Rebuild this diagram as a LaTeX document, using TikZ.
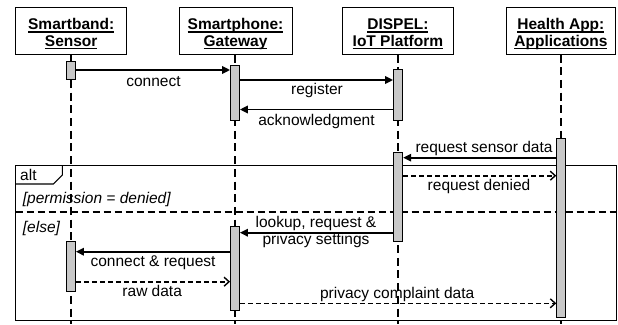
\documentclass[tikz,border=0pt]{standalone}
\usepackage{fontspec}
\setmainfont{Liberation Sans}
\usetikzlibrary{arrows.meta}
\newcommand\hdul[1]{\setbox0\hbox{#1}\rlap{\rule[-3.4pt]{\wd0}{1.3pt}}\box0}
\definecolor{barfill}{RGB}{200,200,200}
\tikzset{
  headbox/.style={draw=black, line width=1pt, fill=white, minimum height=46.7pt, inner sep=0pt},
  headtxt/.style={font=\fontsize{15.5}{17}\selectfont\bfseries, inner sep=0pt, anchor=base},
  lbl/.style={font=\fontsize{15.5}{17}\selectfont, inner sep=0pt, anchor=base},
  guard/.style={font=\fontsize{15.5}{17}\selectfont\itshape, inner sep=0pt, anchor=base west},
  lifeline/.style={draw=black, line width=1.7pt, dash pattern=on 8pt off 4.7pt},
  actbar/.style={draw=black, line width=0.8pt, fill=barfill, minimum width=9pt, inner sep=0pt},
  msg/.style={draw=black, line width=1.8pt, -{Triangle[length=8pt,width=7.5pt]}},
  reply/.style={draw=black, line width=1.6pt, dash pattern=on 5pt off 3pt, -{Straight Barb[length=5pt,width=9pt,line width=1.4pt]}},
  frameline/.style={draw=black, line width=1.1pt},
}
\begin{document}
\begin{tikzpicture}[x=1pt,y=-1pt]
\useasboundingbox (0,0) rectangle (618,324);
% heads
\node[headbox, minimum width=111pt] (h1) at (71.2,30.7) {};
\node[headbox, minimum width=113pt] (h2) at (235.5,30.7) {};
\node[headbox, minimum width=110.3pt] (h3) at (397.9,30.7) {};
\node[headbox, minimum width=109.7pt] (h4) at (560.9,30.7) {};
\node[headtxt] (t1a) at (71.2,29.3) {\hdul{Smartband:}};
\node[headtxt] (t1b) at (71.2,46) {\hdul{Sensor}};
\node[headtxt] (t2a) at (235.5,29.3) {\hdul{Smartphone:}};
\node[headtxt] (t2b) at (235.5,46) {\hdul{Gateway}};
\node[headtxt] (t3a) at (397.9,29.3) {\hdul{DISPEL:}};
\node[headtxt] (t3b) at (397.9,46) {\hdul{IoT Platform}};
\node[headtxt] (t4a) at (560.9,29.3) {\hdul{Health App:}};
\node[headtxt] (t4b) at (560.9,46) {\hdul{Applications}};
% lifeline ends
\coordinate (e1) at (71.2,324);
\coordinate (e2) at (235,324);
\coordinate (e3) at (397.9,324);
\coordinate (e4) at (561,324);
\draw[lifeline] (h1.south) -- (e1);
\draw[lifeline] (h2.south -| e2) -- (e2);
\draw[lifeline] (h3.south) -- (e3);
\draw[lifeline] (h4.south -| e4) -- (e4);
% alt frame
\draw[frameline] (15.7,165.3) rectangle (616.5,320.7);
\draw[frameline] (15.7,184) -- (53.3,184) -- (62.3,175) -- (62.3,165.3);
\draw[black, line width=1.8pt, dash pattern=on 7pt off 4pt] (15.7,212.3) -- (616.5,212.3);
\node[lbl, anchor=base west] (altl) at (20,180.7) {alt};
\node[guard] (g1) at (22.7,203.3) {[permission = denied]};
\node[guard] (g2) at (22.7,232.7) {[else]};
% activation bars
\node[actbar, minimum height=18pt] (sb1) at (71.2,70) {};
\node[actbar, minimum height=55pt] (sp1) at (235,92.5) {};
\node[actbar, minimum height=50.7pt] (di1) at (398,94.65) {};
\node[actbar, minimum height=179.4pt] (ha1) at (561.2,228) {};
\node[actbar, minimum height=88.7pt] (di2) at (398.3,196.65) {};
\node[actbar, minimum height=83.3pt] (sp2) at (235,268.35) {};
\node[actbar, minimum height=50pt] (sb2) at (71,266.7) {};
% messages
\draw[msg] (sb1.east |- 0,70) -- (sp1.west |- 0,70);
\node[lbl] (l1) at (153.5,86) {connect};
\draw[msg] (sp1.east |- 0,80) -- (di1.west |- 0,80);
\node[lbl] (l2) at (317,94.3) {register};
\draw[msg] (di1.west |- 0,109.5) -- (sp1.east |- 0,109.5);
\node[lbl] (l3) at (316.5,125) {acknowledgment};
\draw[msg] (ha1.west |- 0,157.7) -- (di2.east |- 0,157.7);
\node[lbl] (l4) at (484,152.7) {request sensor data};
\draw[reply] (di2.east |- 0,175.7) -- (ha1.west |- 0,175.7);
\node[lbl] (l5) at (479,190) {request denied};
\draw[msg] (di2.west |- 0,232.7) -- (sp2.east |- 0,232.7);
\node[lbl] (l6a) at (316,227.3) {lookup, request \&};
\node[lbl] (l6b) at (316,244.3) {privacy settings};
\draw[msg] (sp2.west |- 0,251.7) -- (sb2.east |- 0,251.7);
\node[lbl] (l7) at (153,266) {connect \& request};
\draw[reply] (sb2.east |- 0,281.7) -- (sp2.west |- 0,281.7);
\node[lbl] (l8) at (152.2,296) {raw data};
\draw[reply] (sp2.east |- 0,303.3) -- (ha1.west |- 0,303.3);
\node[lbl] (l9) at (397.2,298.3) {privacy complaint data};
\end{tikzpicture}
\end{document}
